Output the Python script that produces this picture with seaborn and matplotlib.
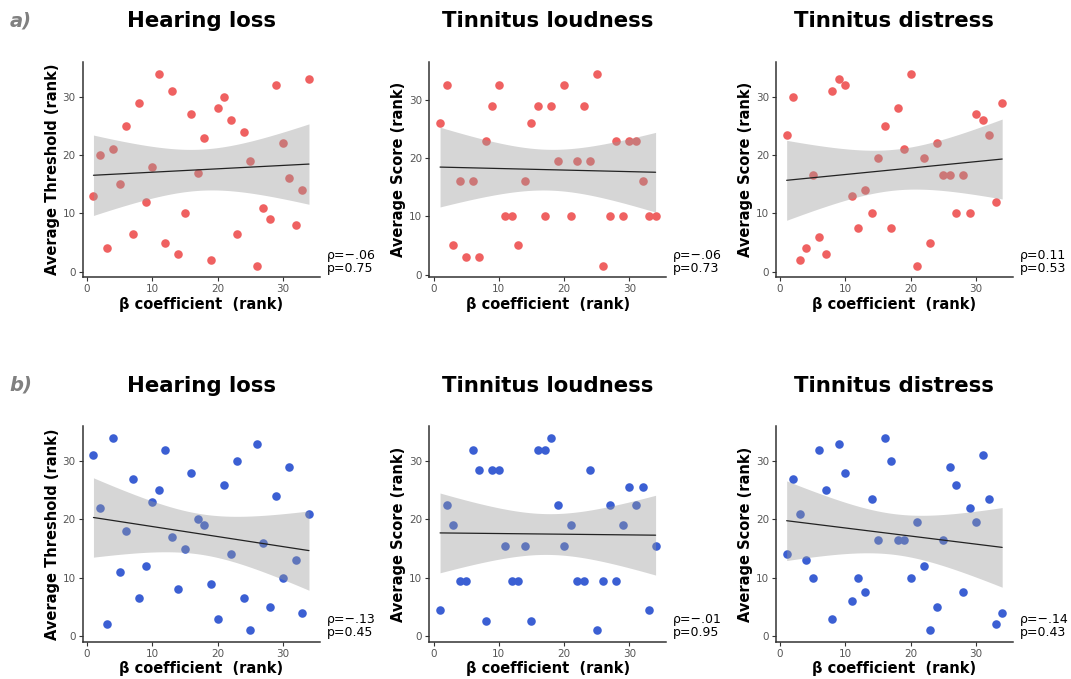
"""
Rank correlations: beta coefficient vs hearing loss / tinnitus measures
"""

import numpy as np
import pandas as pd
import matplotlib
matplotlib.use("Agg")
import matplotlib.pyplot as plt
import seaborn as sns

# ─── Data (ranks) ───────────────────────────────────────────────────────────
beta_rank = list(range(1, 35))

titles = ["Hearing loss", "Tinnitus loudness", "Tinnitus distress"]
ylabels = ["Average Threshold (rank)", "Average Score (rank)", "Average Score (rank)"]

# row a)
a_hearing = [13, 20, 4, 21, 15, 25, 6.5, 29, 12, 18, 34, 5, 31, 3, 10, 27, 17,
             23, 2, 28, 30, 26, 6.5, 24, 19, 1, 11, 9, 32, 22, 16, 8, 14, 33]
a_loudness = [26, 32.5, 5, 16, 3, 16, 3, 23, 29, 32.5, 10, 10, 5, 16, 26, 29, 10,
              29, 19.5, 32.5, 10, 19.5, 29, 19.5, 34.5, 1.5, 10, 23, 10, 23, 23, 16, 10, 10]
a_distress = [23.5, 30, 2, 4, 16.5, 6, 3, 31, 33, 32, 13, 7.5, 14, 10, 19.5, 25, 7.5,
              28, 21, 34, 1, 19.5, 5, 22, 16.5, 16.5, 10, 16.5, 10, 27, 26, 23.5, 12, 29]
# row b)
b_hearing = [31, 22, 2, 34, 11, 18, 27, 6.5, 12, 23, 25, 32, 17, 8, 15, 28, 20,
             19, 9, 3, 26, 14, 30, 6.5, 1, 33, 16, 5, 24, 10, 29, 13, 4, 21]
b_loudness = [4.5, 22.5, 19, 9.5, 9.5, 32, 28.5, 2.5, 28.5, 28.5, 15.5, 9.5, 9.5, 15.5,
              2.5, 32, 32, 34, 22.5, 15.5, 19, 9.5, 9.5, 28.5, 1, 9.5, 22.5, 9.5, 19,
              25.5, 22.5, 25.5, 4.5, 15.5]
b_distress = [14, 27, 21, 13, 10, 32, 25, 3, 33, 28, 6, 10, 7.5, 23.5, 16.5, 34, 30,
              16.5, 16.5, 10, 19.5, 12, 1, 5, 16.5, 29, 26, 7.5, 22, 19.5, 31, 23.5, 2, 4]

rho_text = [["ρ=−.06\np=0.75", "ρ=−.06\np=0.73", "ρ=0.11\np=0.53"],
            ["ρ=−.13\np=0.45", "ρ=−.01\np=0.95", "ρ=−.14\np=0.43"]]

row_labels = ["a)", "b)"]
row_colors = ["#EF6161", "#3B5FD3"]
rows = [[a_hearing, a_loudness, a_distress], [b_hearing, b_loudness, b_distress]]

T_CRIT = 2.037  # t(0.975, df=32)

# ─── Style ──────────────────────────────────────────────────────────────────
sns.set_style("white")
plt.rcParams.update({
    "font.family": ["DejaVu Sans"],
    "text.color": "black",
    "axes.labelcolor": "black",
})


def ols_band(x, y, xs):
    x = np.asarray(x, float)
    y = np.asarray(y, float)
    b1, b0 = np.polyfit(x, y, 1)
    resid = y - (b0 + b1 * x)
    s = np.sqrt(np.sum(resid ** 2) / (len(x) - 2))
    sxx = np.sum((x - x.mean()) ** 2)
    se = s * np.sqrt(1 / len(x) + (xs - x.mean()) ** 2 / sxx)
    fit = b0 + b1 * xs
    return fit - T_CRIT * se, fit + T_CRIT * se


fig, axes = plt.subplots(2, 3, figsize=(10.71, 6.79), dpi=100)
fig.subplots_adjust(left=0.0772, right=0.9458, top=0.9087, bottom=0.0549,
                    wspace=0.462, hspace=0.692)

for r, (series, color) in enumerate(zip(rows, row_colors)):
    for c, yvals in enumerate(series):
        ax = axes[r, c]
        df = pd.DataFrame({"beta": beta_rank, "score": yvals})

        sns.scatterplot(data=df, x="beta", y="score", ax=ax, color=color,
                        s=38, linewidth=0, zorder=1)

        xs = np.linspace(min(beta_rank), max(beta_rank), 80)
        lo, hi = ols_band(df["beta"], df["score"], xs)
        ax.fill_between(xs, lo, hi, color="#999999", alpha=0.4, linewidth=0, zorder=2)

        sns.regplot(data=df, x="beta", y="score", ax=ax, scatter=False, ci=None,
                    line_kws={"color": "#222222", "lw": 0.9, "zorder": 3})

        # ggplot-like 5% expansion
        x0, x1 = min(beta_rank), max(beta_rank)
        y0, y1 = min(yvals), max(yvals)
        ax.set_xlim(x0 - 0.05 * (x1 - x0), x1 + 0.05 * (x1 - x0))
        ax.set_ylim(y0 - 0.06 * (y1 - y0), y1 + 0.06 * (y1 - y0))
        ax.set_xticks([0, 10, 20, 30])
        ax.set_yticks([0, 10, 20, 30])

        ax.set_title(titles[c], fontsize=15.3, fontweight="bold", color="black", pad=25)
        ax.set_xlabel("β coefficient  (rank)", fontsize=10.5, fontweight="bold", labelpad=2)
        ax.set_ylabel(ylabels[c], fontsize=10.5, fontweight="bold", labelpad=2)

        ax.tick_params(axis="both", labelsize=7.5, labelcolor="#555555", color="#333333",
                       length=3, width=0.8, pad=2, bottom=True, left=True)
        sns.despine(ax=ax)
        for sp in ("left", "bottom"):
            ax.spines[sp].set_color("#333333")
            ax.spines[sp].set_linewidth(1.1)

        ax.annotate(rho_text[r][c], xy=(1, 0), xycoords="axes fraction",
                    xytext=(5, 2), textcoords="offset points",
                    ha="left", va="bottom", fontsize=9, linespacing=1.0)

    # row letter
    pos = axes[r, 0].get_position()
    fig.text(0.009, pos.y1 + 0.061, row_labels[r], fontsize=14, fontweight="bold",
             fontstyle="italic", color="#808080", ha="left", va="center")

fig.savefig("out.png", dpi=100)
